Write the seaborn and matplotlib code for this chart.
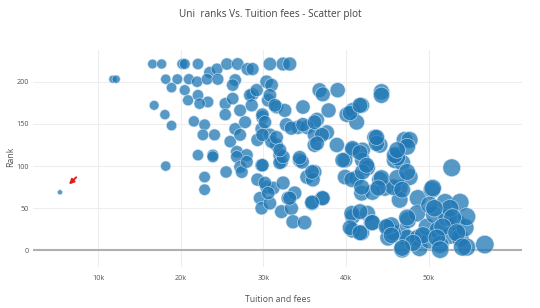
import matplotlib
matplotlib.use("Agg")
import matplotlib.pyplot as plt
import seaborn as sns
import pandas as pd

# Tuition and fees (thousands of $) and rank
tuition_k = [
    5.4, 11.8, 12.2,
    16.6, 17.7, 20.2, 20.5, 22.1, 23.5, 24.4, 25.6, 26.9, 28.1, 28.7, 30.8, 32.4, 33.2,
    18.2, 19.6, 18.9, 20.5, 21.0, 22.0, 23.2, 24.5, 26.6, 26.3, 30.4, 31.0, 28.7, 36.8,
    16.8, 18.1, 18.9, 20.9, 22.1, 23.3, 22.3, 25.4, 25.4, 26.3, 27.2, 28.4, 29.2, 28.6,
    29.9, 30.6, 31.6, 32.6, 34.8, 36.5, 37.2,
    21.6, 22.9, 22.7, 24.1, 26.0, 26.6, 27.2, 27.8, 29.8, 29.3, 30.8, 31.6, 32.8, 34.2,
    35.3, 36.2, 36.2, 37.7, 26.8, 28.0, 22.1, 23.9, 32.0, 34.4, 18.2,
    22.9, 22.9, 25.5, 26.8, 27.2, 27.4, 28.0, 29.8, 29.3, 30.4, 31.2, 29.6, 29.8, 30.8,
    32.2, 32.4, 33.0, 33.8, 32.2, 33.4, 33.6, 35.0, 34.7, 35.3, 36.2, 35.9, 37.1, 36.0, 23.9,
    39.0, 44.3, 44.3, 37.9, 40.1, 40.8, 41.9, 41.3, 43.5, 44.1, 47.1, 47.7, 38.9, 40.8,
    42.0, 37.1, 46.2,
    39.9, 42.0, 45.9, 46.8, 52.8, 37.2, 39.9, 41.3, 42.6, 44.1, 44.7, 41.9, 43.2, 46.5,
    47.7, 46.5, 48.7, 50.4, 52.0, 53.8, 40.8, 42.6, 40.8, 41.9, 43.1, 45.1, 45.1, 46.8,
    47.5, 48.6, 47.4, 46.8, 48.7, 48.9, 50.1, 49.8, 50.7, 51.1, 52.2, 52.6, 53.4, 53.8,
    54.4, 54.6, 51.4, 50.1, 52.6, 54.6, 56.8, 49.3, 48.1,
    46.2, 45.7, 50.5, 50.7, 47.4, 52.9, 51.7, 53.4, 51.0, 54.1, 51.4, 45.7, 45.5,
    31.0, 40.8, 41.7, 43.7, 45.9, 47.4, 29.9, 32.0, 32.4, 35.9, 39.6, 40.7, 42.0, 42.5,
    44.3, 43.9, 46.2, 46.8, 47.4, 30.2, 30.6, 33.2, 35.9, 41.9, 40.7, 41.7, 43.2, 40.5,
    41.7, 44.9, 45.5, 46.8,
    30.8, 31.4, 40.5, 41.7, 29.9, 30.2, 33.4, 34.8, 36.2, 36.5, 43.7, 46.2, 29.9, 31.6,
    32.0, 34.4,
]
rank = [
    69, 203, 203,
    221, 221, 221, 221, 221, 211, 215, 221, 221, 215, 215, 221, 221, 221,
    203, 203, 193, 190, 203, 200, 203, 203, 202, 196, 200, 196, 185, 190,
    172, 161, 148, 178, 184, 176, 174, 174, 161, 180, 166, 184, 190, 172,
    158, 178, 170, 166, 170, 155, 185,
    153, 149, 137, 137, 129, 144, 137, 152, 144, 131, 137, 125, 149, 146,
    146, 137, 125, 140, 117, 113, 113, 113, 113, 107, 100,
    87, 72, 93, 111, 99, 93, 105, 101, 84, 75, 74, 62, 50, 56,
    105, 80, 62, 68, 46, 50, 34, 33, 105, 87, 93, 56, 62, 84, 111,
    190, 188, 184, 166, 161, 166, 172, 152, 134, 125, 131, 131, 125, 119,
    119, 137, 113,
    107, 107, 107, 104, 98, 62, 87, 86, 98, 84, 74, 68, 69, 74,
    87, 60, 62, 72, 57, 57, 40, 44, 24, 21, 33, 28, 15, 22,
    36, 44, 15, 1, 15, 3, 12, 28, 42, 24, 39, 18, 33, 15,
    27, 4, 7, 54, 50, 40, 7, 18, 9,
    110, 75, 74, 50, 39, 39, 28, 21, 15, 4, 1, 21, 30,
    129, 121, 116, 127, 113, 123, 101, 104, 111, 93, 107, 84, 93, 101,
    86, 74, 86, 72, 93, 80, 68, 62, 57, 75, 44, 46, 33, 27,
    21, 28, 18, 3,
    184, 172, 163, 172, 161, 152, 145, 149, 152, 127, 134, 119, 137, 134,
    119, 110,
]

x_ticks = [10, 20, 30, 40, 50]
x_tick_labels = ["10k", "20k", "30k", "40k", "50k"]
y_ticks = [0, 50, 100, 150, 200]

df = pd.DataFrame({"Tuition and fees": tuition_k, "Rank": rank})

sns.set_theme(style="white")
plt.rcParams["font.family"] = ["Open Sans", "DejaVu Sans"]

fig = plt.figure(figsize=(5.4, 3.08), dpi=100)
ax = fig.add_axes([33 / 540, 1 - 267 / 308, (522 - 33) / 540, (267 - 50) / 308])

ax.set_xlim(2.14, 61.3)
ax.set_ylim(-19.6, 237.6)

for xv in x_ticks:
    ax.axvline(xv, color="#eeeeee", lw=0.8, zorder=0)
for yv in y_ticks[1:]:
    ax.axhline(yv, color="#eeeeee", lw=0.8, zorder=0)
ax.axhline(0, color="#b0b0b0", lw=1.5, zorder=1)

sns.scatterplot(
    data=df, x="Tuition and fees", y="Rank", size="Tuition and fees",
    sizes=(13, 175), color="#1f77b4", alpha=0.75, edgecolor="#d8e8f5",
    linewidth=0.5, legend=False, ax=ax, zorder=3,
)

ax.annotate("", xy=(6.25, 76), xytext=(7.6, 89),
            arrowprops=dict(arrowstyle="-|>", color="#e0201a", lw=1.4,
                            mutation_scale=7), zorder=4)

for s in ax.spines.values():
    s.set_visible(False)

ax.set_xticks(x_ticks)
ax.set_xticklabels(x_tick_labels)
ax.set_yticks(y_ticks)
ax.tick_params(axis="both", length=0, labelsize=5.2, colors="#555555")
ax.tick_params(axis="x", pad=6)
ax.tick_params(axis="y", pad=3)

ax.set_xlabel("Tuition and fees", fontsize=6.3, color="#555555", labelpad=9)
ax.set_ylabel("")
fig.text(11 / 540, 1 - 157 / 308, "Rank", rotation=90, ha="center", va="center",
         fontsize=6.3, color="#555555")

fig.text(0.5, 1 - 15 / 308, "Uni  ranks Vs. Tuition fees - Scatter plot",
         ha="center", va="center", fontsize=7.2, color="#444444")

fig.savefig("out.png", dpi=100)
